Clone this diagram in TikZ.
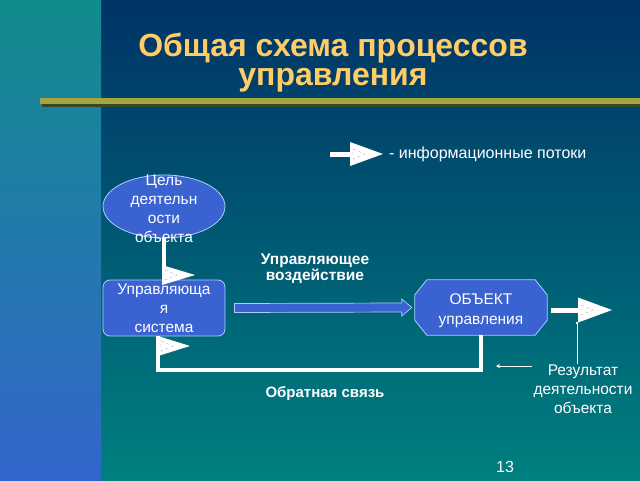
\documentclass[tikz,border=0pt]{standalone}
\usepackage{fontspec}
\setmainfont{Liberation Sans}
\usetikzlibrary{calc,arrows.meta,shapes.geometric}
\definecolor{navy}{HTML}{003366}
\definecolor{tealb}{HTML}{008080}
\definecolor{stripT}{HTML}{118C8C}
\definecolor{stripB}{HTML}{3366CC}
\definecolor{titleY}{HTML}{FFCC66}
\definecolor{olive}{HTML}{A5A53F}
\definecolor{oliveD}{HTML}{38452A}
\definecolor{boxF}{HTML}{3A62D0}
\definecolor{boxE}{HTML}{A8D0FF}
\newcommand\infoflag[4]{%
  \fill[white] ({#1},{#2-#4/2}) -- ({#1+#3},{#2}) -- ({#1},{#2+#4/2}) -- cycle;
  \draw[gray!60, dashed, line width=0.4pt] ({#1+3},{#2-5}) -- ({#1+15},{#2}) -- ({#1+3},{#2+5}) -- cycle;
}
\begin{document}
\begin{tikzpicture}[x=1pt,y=-1pt,
  txt/.style={text=white, font=\fontsize{15.5}{19}\selectfont, align=center, inner sep=0pt},
  btxt/.style={text=white, font=\bfseries\fontsize{15.5}{12.5}\selectfont, align=center, inner sep=0pt},
  ttl/.style={text=titleY, font=\bfseries\fontsize{32}{28}\selectfont, inner sep=0pt},
  bluebox/.style={fill=boxF, draw=boxE, line width=0.8pt},
  infoline/.style={draw=white, line width=4.3pt},
  thinline/.style={draw=white, line width=0.7pt}]
\useasboundingbox (0,0) rectangle (640,480);
% backgrounds
\shade[top color=navy, bottom color=tealb] (101,0) rectangle (640,480);
\shade[top color=stripT, bottom color=stripB] (0,0) rectangle (101,480);
% olive bar
\fill[oliveD] (42,100) rectangle (640,106.5);
\fill[olive] (40,98.3) rectangle (640,104);
% title
\node[ttl, anchor=base] (t1) at (333,56) {Общая схема процессов};
\node[ttl, anchor=base] (t2) at (333,85) {управления};
% legend
\coordinate (lg0) at (330,154);
\coordinate (lg1) at (351,154);
\draw[infoline, line width=5pt] (lg0) -- (lg1);
\infoflag{350}{154}{33}{24}
\node[txt, anchor=west, font=\fontsize{16}{19}\selectfont] (lgt) at (389,154) {- информационные потоки};
% ellipse
\node[ellipse, bluebox, minimum width=122pt, minimum height=63pt, inner sep=0pt] (ell) at (164,206.5) {};
\node[txt] (ellt) at ([shift={(0,2.5)}]ell.center) {Цель\\деятельн\\ости\\объекта};
% control system box
\node[bluebox, rounded corners=7pt, minimum width=122pt, minimum height=56pt, inner sep=0pt, txt] (box) at (164,308) {Управляюща\\я\\система};
\draw[infoline] (ell.south) -- (box.north);
\infoflag{162}{275}{33}{20}
% object octagon
\node[minimum width=132pt, minimum height=55pt, inner sep=0pt] (obj) at (481,307.5) {};
\path[bluebox] ([xshift=12pt]obj.north west) -- ([xshift=-12pt]obj.north east)
  -- ([yshift=-15pt]obj.north east) -- ([yshift=15pt]obj.south east)
  -- ([xshift=-12pt]obj.south east) -- ([xshift=12pt]obj.south west)
  -- ([yshift=15pt]obj.south west) -- ([yshift=-15pt]obj.north west) -- cycle;
\node[txt, font=\fontsize{15.5}{20}\selectfont] (objt) at ([shift={(0,3)}]obj.center) {ОБЪЕКТ\\управления};
% control action block arrow
\coordinate (ca0) at ([xshift=9pt]box.east);
\coordinate (ca1) at ([xshift=-3pt]obj.west);
\path[bluebox, line width=0.7pt] ([shift={(0,-4.5)}]ca0) -- ([shift={(-10,-4.5)}]ca1) -- ([shift={(-10,-8.5)}]ca1)
  -- (ca1) -- ([shift={(-10,8.5)}]ca1) -- ([shift={(-10,4.5)}]ca1) -- ([shift={(0,4.5)}]ca0) -- cycle;
\node[btxt] (cat) at (315,268.5) {Управляющее\\воздействие};
% feedback loop
\coordinate (fbc) at (158,370);
\draw[infoline, line width=4pt] (obj.south) |- (fbc) -- (fbc |- box.south);
\infoflag{158}{346}{32}{20}
\node[btxt, font=\bfseries\fontsize{15}{12.5}\selectfont] (fbt) at (325,394) {Обратная связь};
% output
\coordinate (out) at (578,310);
\draw[infoline, line width=5pt] ([xshift=4pt]out -| obj.east) -- (out);
\infoflag{578}{310}{34}{25}
% result
\node[txt] (res) at (583,389) {Результат\\деятельности\\объекта};
\coordinate (rtop) at (577,323);
\draw[thinline] (rtop) -- (rtop |- res.north);
\fill[white] (rtop) circle (1.3pt);
\coordinate (ra0) at (532,366);
\coordinate (ra1) at (496,366);
\draw[thinline, -{Stealth[length=4pt,width=4pt]}] (ra0) -- (ra1);
% page number
\node[txt, anchor=base, font=\fontsize{16}{19}\selectfont] (pg) at (505,472) {13};
\end{tikzpicture}
\end{document}
